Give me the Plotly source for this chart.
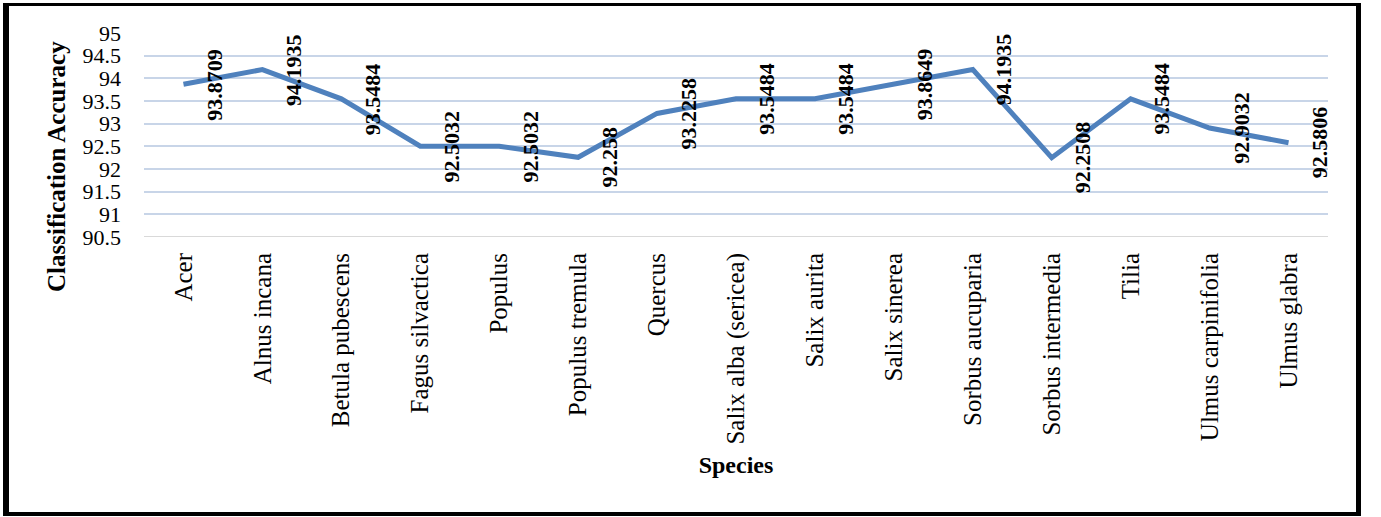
import plotly.graph_objects as go

species = ["Acer", "Alnus incana", "Betula pubescens", "Fagus silvactica", "Populus",
           "Populus tremula", "Quercus", "Salix alba (sericea)", "Salix aurita", "Salix sinerea",
           "Sorbus aucuparia", "Sorbus intermedia", "Tilia", "Ulmus carpinifolia", "Ulmus glabra"]
accuracy = [93.8709, 94.1935, 93.5484, 92.5032, 92.5032,
            92.258, 93.2258, 93.5484, 93.5484, 93.8649,
            94.1935, 92.2508, 93.5484, 92.9032, 92.5806]
label_text = ["93.8709", "94.1935", "93.5484", "92.5032", "92.5032",
              "92.258", "93.2258", "93.5484", "93.5484", "93.8649",
              "94.1935", "92.2508", "93.5484", "92.9032", "92.5806"]
y_ticks = [90.5, 91, 91.5, 92, 92.5, 93, 93.5, 94, 94.5, 95]

FONT = "Liberation Serif, Times New Roman, serif"
W, H = 1381, 517
L, R, T, B = 144, 1328, 33, 237

fig = go.Figure()
fig.add_trace(go.Scatter(
    x=species, y=accuracy, mode="lines",
    line=dict(color="#4f81bd", width=5),
    showlegend=False, hoverinfo="x+y",
))

for s, v, t in zip(species, accuracy, label_text):
    fig.add_annotation(
        x=s, y=v, text="<b>%s</b>" % t, showarrow=False, textangle=-90,
        xanchor="center", yanchor="middle", xshift=31,
        font=dict(family=FONT, size=22, color="black"),
    )

def px2x(px):
    return (px - L) / (R - L)

def py2y(py):
    return (B - py) / (B - T)

# y-axis title placed as in the reference (centred lower than the plot middle)
fig.add_annotation(
    xref="paper", yref="paper", x=px2x(56), y=py2y(167),
    text="<b>Classification Accuracy</b>", showarrow=False, textangle=-90,
    xanchor="center", yanchor="middle",
    font=dict(family=FONT, size=25, color="black"),
)

shapes = []
for x0, y0, x1, y1, w in [
    (6, 3, 6, 516, 6),
    (3, 4.5, 1361, 4.5, 3),
    (1358.5, 3, 1358.5, 516, 5),
    (3, 514, 1361, 514, 4),
]:
    shapes.append(dict(type="line", xref="paper", yref="paper",
                       x0=px2x(x0), y0=py2y(y0), x1=px2x(x1), y1=py2y(y1),
                       line=dict(color="black", width=w), layer="above"))

fig.update_layout(
    width=W, height=H,
    margin=dict(l=L, r=W - R, t=T, b=H - B, autoexpand=False),
    paper_bgcolor="white", plot_bgcolor="white",
    font=dict(family=FONT, color="black"),
    shapes=shapes,
    xaxis=dict(
        type="category", range=[-0.5, len(species) - 0.5], tickangle=-90,
        tickfont=dict(family=FONT, size=25, color="black"),
        showgrid=False, showline=False, zeroline=False, ticks="",
        ticklabelstandoff=10, automargin=False,
        title=dict(text="<b>Species</b>", font=dict(family=FONT, size=24, color="black"), standoff=12),
    ),
    yaxis=dict(
        range=[90.5, 95], tickvals=y_ticks, ticktext=[("%g" % v) for v in y_ticks],
        tickfont=dict(family=FONT, size=22, color="black"),
        showgrid=True, gridcolor="#c8d5e8", gridwidth=1.5,
        zeroline=False, showline=False, ticks="", ticklabelstandoff=22, automargin=False,
    ),
)
fig.add_shape(type="line", xref="paper", yref="y", x0=0, x1=1, y0=90.5, y1=90.5,
              line=dict(color="#d9d9d9", width=2), layer="below")

fig.write_html("out.html", config={"displayModeBar": False},
               post_script="document.body.style.margin='0';document.body.style.padding='0';")
